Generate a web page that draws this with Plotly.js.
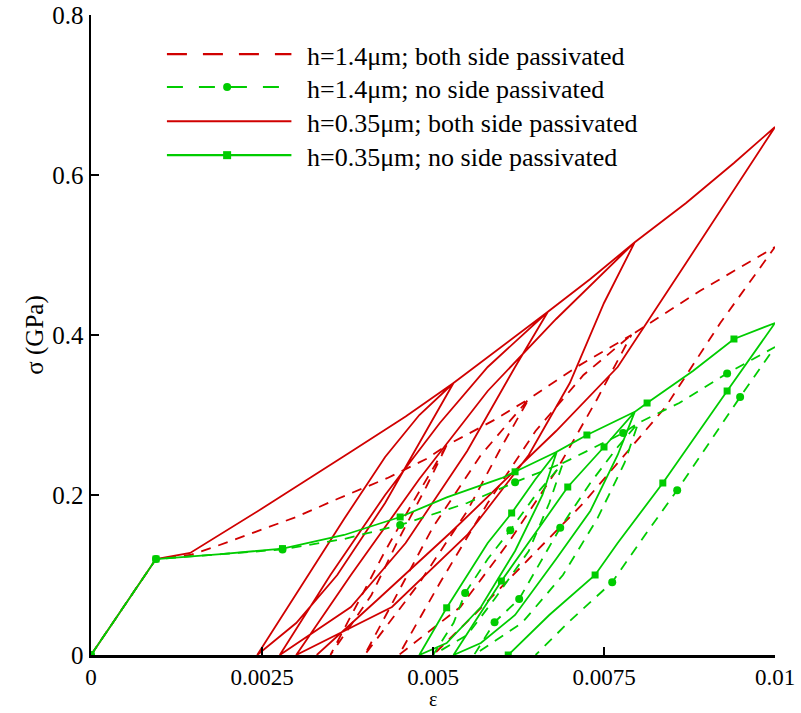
<!DOCTYPE html>
<html>
<head>
<meta charset="utf-8">
<script src="https://cdn.plot.ly/plotly-3.0.1.min.js"></script>
<style>html,body{margin:0;padding:0;background:#fff;}#chart{width:801px;height:713px;}</style>
</head>
<body>
<div id="chart"></div>
<script>
// ---------- DATA (strain ε, stress σ in GPa) ----------
// h=1.4µm; both side passivated (red dashed)
const rdEps = [0, 0.00095, 0.00145, 0.0018, 0.0030, 0.0036, 0.00433, 0.0049, 0.0052,
  0.0049, 0.0045, 0.0041, 0.0035,
  0.0039, 0.0043, 0.0047, 0.0052,
  0.0059, 0.0064,
  0.0060, 0.0055, 0.0048, 0.0040,
  0.0045, 0.0050, 0.0057, 0.0064,
  0.0071, 0.0079,
  0.0074, 0.0068, 0.0061, 0.0054, 0.0045,
  0.0051, 0.0058, 0.0065, 0.0072, 0.0079,
  0.0089, 0.0100,
  0.0092, 0.0084, 0.0079, 0.0072, 0.0064, 0.0056, 0.0050];
const rdSig = [0, 0.12, 0.125, 0.135, 0.1725, 0.195, 0.221, 0.245, 0.262,
  0.21, 0.145, 0.075, 0,
  0.065, 0.13, 0.19, 0.262,
  0.294, 0.32,
  0.26, 0.18, 0.09, 0,
  0.08, 0.16, 0.25, 0.32,
  0.36, 0.40,
  0.32, 0.23, 0.14, 0.06, 0,
  0.09, 0.19, 0.28, 0.35, 0.40,
  0.455, 0.51,
  0.415, 0.31, 0.26, 0.19, 0.12, 0.05, 0];

// h=0.35µm; both side passivated (red solid)
const rsEps = [0, 0.00095, 0.00145, 0.0025, 0.0038, 0.0046, 0.0053,
  0.0049, 0.0043, 0.0036, 0.0030, 0.00243,
  0.0031, 0.0037, 0.0043, 0.0048, 0.0053,
  0.0060, 0.00668,
  0.0062, 0.0055, 0.0046, 0.0038, 0.00276,
  0.0035, 0.0043, 0.0051, 0.0058, 0.00668,
  0.0073, 0.00795,
  0.0075, 0.0070, 0.0064, 0.0055, 0.0044, 0.0030,
  0.0038, 0.0048, 0.0058, 0.0068, 0.00795,
  0.0087, 0.0094, 0.0100,
  0.0087, 0.0077, 0.0068, 0.00525, 0.0042, 0.0033];
const rsSig = [0, 0.12, 0.1275, 0.183, 0.254, 0.298, 0.34,
  0.28, 0.19, 0.10, 0.04, 0,
  0.09, 0.17, 0.2475, 0.30, 0.34,
  0.385, 0.429,
  0.36, 0.255, 0.14, 0.06, 0,
  0.10, 0.20, 0.29, 0.36, 0.429,
  0.47, 0.516,
  0.44, 0.34, 0.25, 0.15, 0.06, 0,
  0.10, 0.22, 0.33, 0.42, 0.516,
  0.565, 0.615, 0.66,
  0.49, 0.36, 0.28, 0.1525, 0.07, 0];

// h=1.4µm; no side passivated (green dashed, circles)
const gdEps = [0, 0.00095, 0.0019, 0.0028, 0.0037, 0.00452, 0.0055, 0.0062, 0.0069,
  0.0067, 0.0064, 0.0059, 0.0055, 0.0050,
  0.0053, 0.00547, 0.0058, 0.00613, 0.0065, 0.0069,
  0.00778, 0.0080,
  0.0078, 0.0074, 0.0069, 0.0063, 0.0056,
  0.0059, 0.00626, 0.00686, 0.0073, 0.0077, 0.0080,
  0.0086, 0.0093, 0.0100,
  0.00949, 0.00857, 0.0081, 0.00762, 0.0070, 0.0065];
const gdSig = [0, 0.12, 0.126, 0.132, 0.145, 0.1625, 0.19, 0.216, 0.24,
  0.19, 0.13, 0.07, 0.025, 0,
  0.04, 0.0775, 0.12, 0.156, 0.20, 0.24,
  0.2775, 0.29,
  0.24, 0.17, 0.10, 0.04, 0,
  0.041, 0.07, 0.159, 0.215, 0.26, 0.29,
  0.315, 0.352, 0.385,
  0.3225, 0.206, 0.15, 0.091, 0.0425, 0];
const gdMarkEps = [0, 0.00095, 0.0028, 0.00452, 0.0062, 0.00778, 0.0093, 0.00547, 0.00613, 0.0059, 0.00626, 0.00686, 0.00762, 0.00857, 0.00949];
const gdMarkSig = [0, 0.12, 0.132, 0.1625, 0.216, 0.2775, 0.352, 0.0775, 0.156, 0.041, 0.07, 0.159, 0.091, 0.206, 0.3225];

// h=0.35µm; no side passivated (green solid, squares)
const gsEps = [0, 0.00095, 0.0019, 0.0028, 0.0037, 0.00452, 0.0052, 0.0060, 0.0062, 0.00681,
  0.0066, 0.0062, 0.0057, 0.0052, 0.0048,
  0.0052, 0.0058, 0.00615, 0.0065, 0.00681,
  0.00725, 0.00795,
  0.0077, 0.0073, 0.0068, 0.0062, 0.0057, 0.0053,
  0.0056, 0.0060, 0.0066, 0.00697, 0.0075, 0.00795,
  0.00813, 0.0088, 0.0094, 0.0100,
  0.0093, 0.00836, 0.0077, 0.00737, 0.0067, 0.0061];
const gsSig = [0, 0.12, 0.126, 0.133, 0.15, 0.1725, 0.197, 0.221, 0.229, 0.254,
  0.20, 0.13, 0.06, 0.015, 0,
  0.059, 0.14, 0.1775, 0.22, 0.254,
  0.275, 0.304,
  0.25, 0.18, 0.12, 0.05, 0.015, 0,
  0.04, 0.0925, 0.165, 0.21, 0.26, 0.304,
  0.315, 0.355, 0.395, 0.415,
  0.33, 0.215, 0.14, 0.10, 0.05, 0];
const gsMarkEps = [0, 0.00095, 0.0028, 0.00452, 0.0062, 0.00725, 0.00813, 0.0094, 0.0052, 0.00615, 0.0060, 0.00697, 0.0075, 0.0061, 0.00737, 0.00836, 0.0093];
const gsMarkSig = [0, 0.12, 0.133, 0.1725, 0.229, 0.275, 0.315, 0.395, 0.059, 0.1775, 0.0925, 0.21, 0.26, 0, 0.10, 0.215, 0.33];

const xTickVals = [0, 0.0025, 0.005, 0.0075, 0.01];
const xTickText = ['0', '0.0025', '0.005', '0.0075', '0.01'];
const yTickVals = [0, 0.2, 0.4, 0.6, 0.8];
const yTickText = ['0', '0.2', '0.4', '0.6', '0.8'];
const legendLabels = ['h=1.4\u03bcm; both side passivated', 'h=1.4\u03bcm; no side passivated',
  'h=0.35\u03bcm; both side passivated', 'h=0.35\u03bcm; no side passivated'];
const xTitle = '\u03b5';
const yTitle = '\u03c3 (GPa)';

// ---------- STYLE ----------
const RED = '#d00000', GREEN = '#00cc00';
const FONT = 'Liberation Serif, Times New Roman, serif';
const LW = 1.8;

const traces = [
  {x: rdEps, y: rdSig, mode: 'lines', line: {color: RED, width: LW, dash: '10px,8px'}, name: legendLabels[0], showlegend: false},
  {x: rsEps, y: rsSig, mode: 'lines', line: {color: RED, width: LW}, name: legendLabels[2], showlegend: false},
  {x: gdEps, y: gdSig, mode: 'lines', line: {color: GREEN, width: LW, dash: '10px,8px'}, name: legendLabels[1], showlegend: false},
  {x: gdMarkEps, y: gdMarkSig, mode: 'markers', marker: {color: GREEN, size: 8, symbol: 'circle'}, showlegend: false, hoverinfo: 'skip'},
  {x: gsEps, y: gsSig, mode: 'lines', line: {color: GREEN, width: LW}, name: legendLabels[3], showlegend: false},
  {x: gsMarkEps, y: gsMarkSig, mode: 'markers', marker: {color: GREEN, size: 7, symbol: 'square'}, showlegend: false, hoverinfo: 'skip'}
];

// custom legend (long line samples like the reference)
const legRowsY = [0.939, 0.8875, 0.834, 0.781];
const legStyles = [
  {color: RED, dash: '20px,16px', marker: null},
  {color: GREEN, dash: '16px,16px', marker: 'circle'},
  {color: RED, dash: 'solid', marker: null},
  {color: GREEN, dash: 'solid', marker: 'square'}
];
const shapes = [];
const annotations = [];
legStyles.forEach((s, i) => {
  shapes.push({type: 'line', xref: 'paper', yref: 'paper', x0: 0.111, x1: 0.293, y0: legRowsY[i], y1: legRowsY[i],
    line: {color: s.color, width: 2.2, dash: s.dash}});
  if (s.marker) {
    shapes.push({type: s.marker === 'circle' ? 'circle' : 'rect', xref: 'paper', yref: 'paper',
      xsizemode: 'pixel', ysizemode: 'pixel', xanchor: 0.199, yanchor: legRowsY[i],
      x0: -4, x1: 4, y0: -4, y1: 4, fillcolor: s.color, line: {color: s.color, width: 0}});
  }
  annotations.push({xref: 'paper', yref: 'paper', x: 0.313, y: legRowsY[i] - 0.004, xanchor: 'left', yanchor: 'middle',
    text: legendLabels[i], showarrow: false, font: {family: FONT, size: 26, color: '#000'}});
});
// x-axis title (ε) placed just below the tick labels, kept inside the page
annotations.push({xref: 'paper', yref: 'paper', x: 0.5, y: -0.0895, xanchor: 'center', yanchor: 'bottom',
  text: xTitle, showarrow: false, font: {family: FONT, size: 20, color: '#000'}});

const layout = {
  width: 801, height: 713,
  margin: {l: 91, r: 26, t: 15, b: 58},
  paper_bgcolor: '#fff', plot_bgcolor: '#fff',
  showlegend: false,
  font: {family: FONT, color: '#000'},
  xaxis: {
    range: [0, 0.01], tickvals: xTickVals, ticktext: xTickText,
    ticks: 'inside', ticklen: 8, tickwidth: 2, tickcolor: '#000',
    showline: true, linewidth: 2.5, linecolor: '#000', mirror: false,
    showgrid: false, zeroline: false,
    tickfont: {family: FONT, size: 23, color: '#000'}
  },
  yaxis: {
    range: [0, 0.8], tickvals: yTickVals, ticktext: yTickText,
    ticks: 'inside', ticklen: 8, tickwidth: 2, tickcolor: '#000',
    showline: true, linewidth: 2.5, linecolor: '#000', mirror: false,
    showgrid: false, zeroline: false,
    tickfont: {family: FONT, size: 25, color: '#000'},
    title: {text: yTitle, font: {family: FONT, size: 25, color: '#000'}, standoff: 2}
  },
  shapes: shapes,
  annotations: annotations
};

Plotly.newPlot('chart', traces, layout, {staticPlot: true, displayModeBar: false});
</script>
</body>
</html>
